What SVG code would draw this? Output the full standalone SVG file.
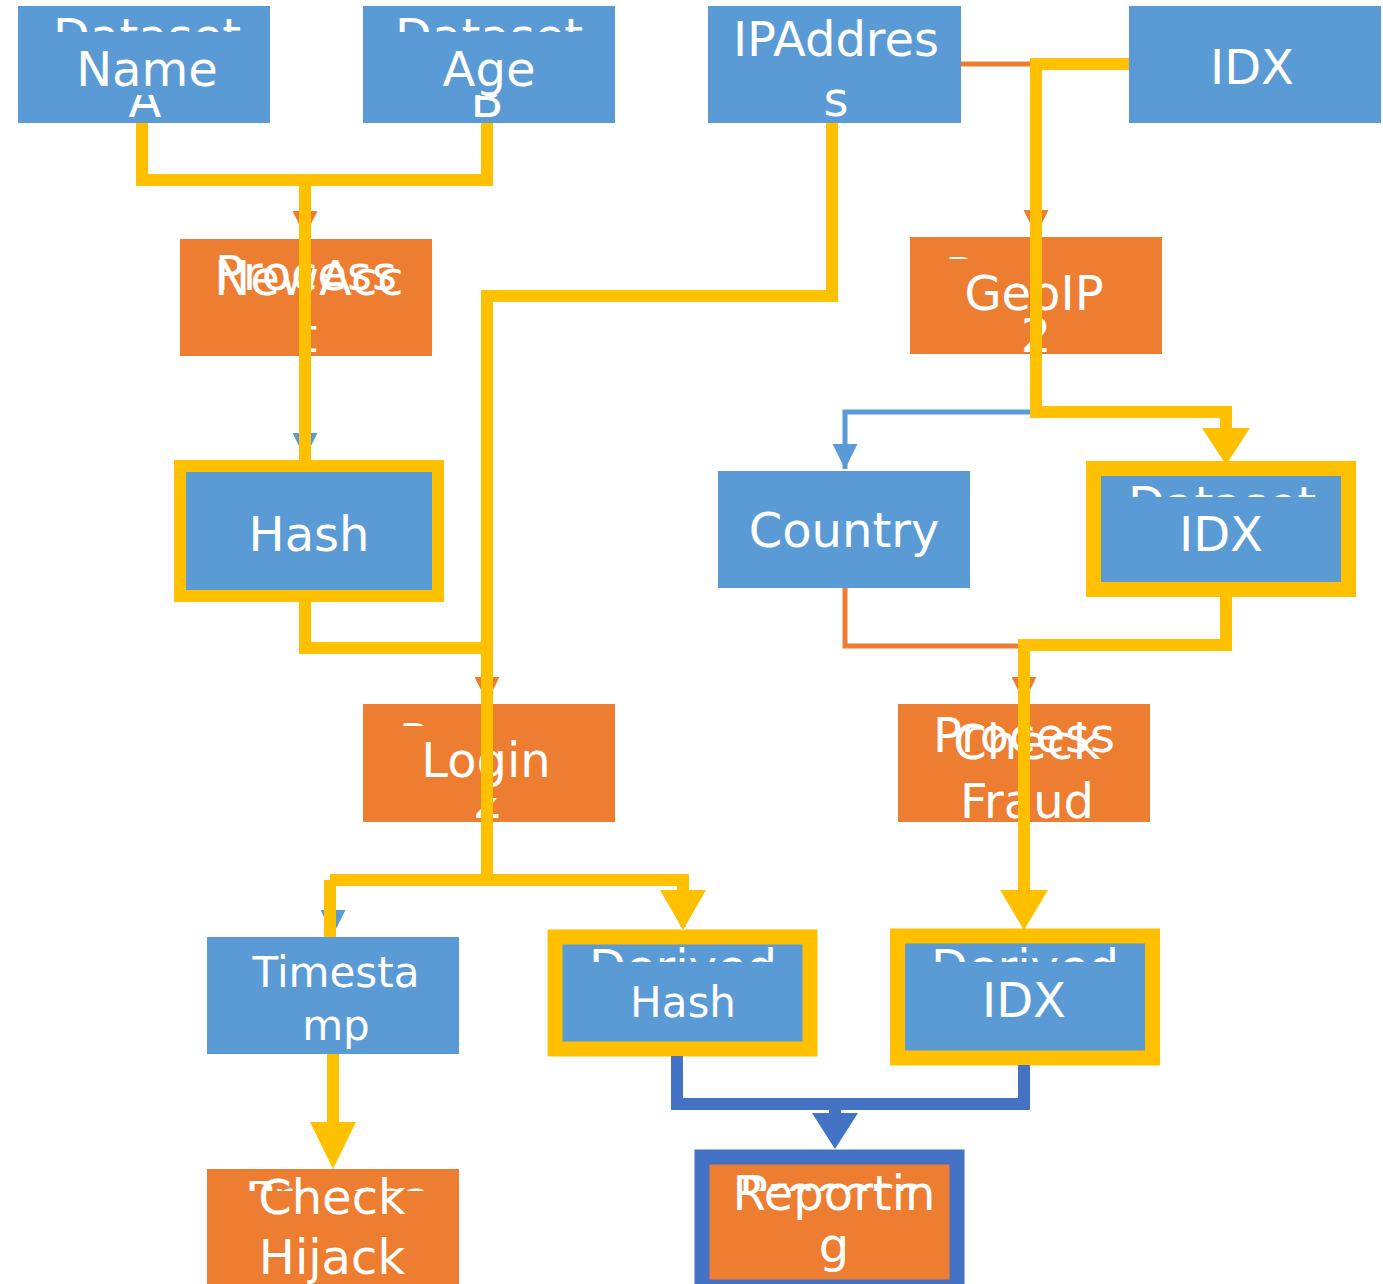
<svg xmlns="http://www.w3.org/2000/svg" width="1383" height="1284" viewBox="0 0 1383 1284">
<style>
.blue{fill:#5B9BD5}
.orange{fill:#ED7D31}
.lbl{font-family:"DejaVu Sans",sans-serif;fill:#FFFFFF;text-anchor:middle}
.big{font-size:48px}
.mid{font-size:42px}
.thin{fill:none;stroke-width:5}
.thick{fill:none;stroke-width:12}
.y{stroke:#FFC000}
.o{stroke:#ED7D31}
.b{stroke:#5B9BD5}
.db{stroke:#4472C4}
</style>
<defs>
<marker id="ao" markerWidth="6" markerHeight="5" refX="5" refY="2.5" orient="auto" markerUnits="strokeWidth"><path d="M0,0 L5,2.5 L0,5 Z" fill="#ED7D31"/></marker>
<marker id="ab" markerWidth="6" markerHeight="5" refX="5" refY="2.5" orient="auto" markerUnits="strokeWidth"><path d="M0,0 L5,2.5 L0,5 Z" fill="#5B9BD5"/></marker>
<clipPath id="cName"><rect x="18" y="6" width="252" height="26"/><rect x="18" y="95" width="252" height="28"/></clipPath>
<clipPath id="cAge"><rect x="363" y="6" width="252" height="26"/><rect x="363" y="95" width="252" height="28"/></clipPath>
<clipPath id="cNew"><rect x="180" y="239" width="252" height="117"/></clipPath>
<clipPath id="cGeo"><rect x="910" y="237" width="65" height="22"/><rect x="1010" y="318" width="60" height="36"/></clipPath>
<clipPath id="cLog"><rect x="363" y="704" width="65" height="22"/><rect x="460" y="798" width="60" height="24"/></clipPath>
<clipPath id="cIdx2"><rect x="1100" y="477" width="241" height="20"/></clipPath>
<clipPath id="cHash2"><rect x="563" y="945" width="239" height="17"/></clipPath>
<clipPath id="cIdx3"><rect x="905" y="944" width="240" height="18"/></clipPath>
<clipPath id="cHij"><rect x="207" y="1181" width="252" height="10"/></clipPath>
<clipPath id="cRep"><rect x="710" y="1165" width="240" height="26"/></clipPath>
</defs>

<g id="node-name">
<rect class="blue" x="18" y="6" width="252" height="117"/>
<g clip-path="url(#cName)"><text class="lbl big" x="147" y="53">Dataset</text><text class="lbl big" x="145" y="117">A</text></g>
<text class="lbl big" x="147" y="86">Name</text>
</g>
<g id="node-age">
<rect class="blue" x="363" y="6" width="252" height="117"/>
<g clip-path="url(#cAge)"><text class="lbl big" x="489" y="53">Dataset</text><text class="lbl big" x="487" y="117">B</text></g>
<text class="lbl big" x="489" y="86">Age</text>
</g>
<g id="node-ipaddress">
<rect class="blue" x="708" y="6" width="253" height="117"/>
<text class="lbl big" x="836" y="56">IPAddres</text>
<text class="lbl big" x="836" y="116">s</text>
</g>
<g id="node-idx1">
<rect class="blue" x="1129" y="6" width="252" height="117"/>
<text class="lbl big" x="1252" y="84">IDX</text>
</g>
<g id="node-newacc">
<rect class="orange" x="180" y="239" width="252" height="117"/>
<g clip-path="url(#cNew)"><text class="lbl big" x="306" y="290">Process</text><text class="lbl big" x="308" y="352">t</text></g>
<text class="lbl big" x="309" y="295">NewAcc</text>
</g>
<g id="node-geoip">
<rect class="orange" x="910" y="237" width="252" height="117"/>
<g clip-path="url(#cGeo)"><text class="lbl big" x="1036" y="292">Process</text><text class="lbl big" x="1036" y="352">2</text></g>
<text class="lbl big" x="1034" y="310">GeoIP</text>
</g>
<g id="node-hash1">
<rect class="blue" x="180" y="466" width="258" height="130" stroke="#FFC000" stroke-width="12"/>
<text class="lbl big" x="309" y="551">Hash</text>
</g>
<g id="node-country">
<rect class="blue" x="718" y="471" width="252" height="117"/>
<text class="lbl big" x="844" y="547">Country</text>
</g>
<g id="node-idx2">
<rect class="blue" x="1093.5" y="468.5" width="255" height="121" stroke="#FFC000" stroke-width="15"/>
<g clip-path="url(#cIdx2)"><text class="lbl big" x="1222" y="521">Dataset</text></g>
<text class="lbl big" x="1221" y="551">IDX</text>
</g>
<g id="node-login">
<rect class="orange" x="363" y="704" width="252" height="118"/>
<g clip-path="url(#cLog)"><text class="lbl big" x="490" y="758">Process</text><text class="lbl big" x="488" y="818">2</text></g>
<text class="lbl big" x="486" y="777">Login</text>
</g>
<g id="node-checkfraud">
<rect class="orange" x="898" y="704" width="252" height="118"/>
<text class="lbl big" x="1024" y="752">Process</text>
<text class="lbl big" x="1027" y="759">Check</text>
<text class="lbl big" x="1027" y="818">Fraud</text>
</g>
<g id="node-timestamp">
<rect class="blue" x="207" y="937" width="252" height="117"/>
<text class="lbl mid" x="336" y="987">Timesta</text>
<text class="lbl mid" x="336" y="1040">mp</text>
</g>
<g id="node-hash2">
<rect class="blue" x="555" y="937" width="255" height="112" stroke="#FFC000" stroke-width="15"/>
<g clip-path="url(#cHash2)"><text class="lbl big" x="683" y="984">Derived</text></g>
<text class="lbl mid" x="683" y="1017">Hash</text>
</g>
<g id="node-idx3">
<rect class="blue" x="897.5" y="936" width="255" height="122" stroke="#FFC000" stroke-width="15"/>
<g clip-path="url(#cIdx3)"><text class="lbl big" x="1025" y="984">Derived</text></g>
<text class="lbl big" x="1024" y="1017">IDX</text>
</g>
<g id="node-checkhijack">
<rect class="orange" x="207" y="1169" width="252" height="115"/>
<g clip-path="url(#cHij)"><text class="lbl big" x="336" y="1215">Process</text></g>
<text class="lbl big" x="332" y="1214">Check</text>
<text class="lbl big" x="332" y="1274">Hijack</text>
</g>
<g id="node-reporting">
<rect class="orange" x="702" y="1157" width="255" height="130" stroke="#4472C4" stroke-width="15"/>
<g clip-path="url(#cRep)"><text class="lbl big" x="830" y="1210">Process</text></g>
<text class="lbl big" x="834" y="1210">Reportin</text>
<text class="lbl big" x="834" y="1262">g</text>
</g>

<g id="connectors">
<path class="thin o" d="M305,180 V236" marker-end="url(#ao)"/>
<path class="thin b" d="M305,356 V458" marker-end="url(#ab)"/>
<path class="thin o" d="M961,64 H1036 V235" marker-end="url(#ao)"/>
<path class="thin b" d="M1036,412 H845 V469" marker-end="url(#ab)"/>
<path class="thin o" d="M487,648 V702" marker-end="url(#ao)"/>
<path class="thin o" d="M845,588 V646 H1024 V702" marker-end="url(#ao)"/>
<path class="thin b" d="M487,822 V880 H333 V935" marker-end="url(#ab)"/>
<path class="thin b" d="M683,880 V927" marker-end="url(#ab)"/>

<path class="thick y" d="M142,123 V180 H487 V123"/>
<path class="thick y" d="M305,180 V460"/>
<path class="thick y" d="M832,123 V296 H487 V880"/>
<path class="thick y" d="M305,602 V648 H487"/>
<path class="thick y" d="M330,880 H683 V892"/>
<path class="thick y" d="M330,880 V937"/>
<polygon points="660,890 706,890 683,930" fill="#FFC000"/>
<path class="thick y" d="M1129,64 H1036 V412 H1226 V430"/>
<polygon points="1202,428 1250,428 1226,465" fill="#FFC000"/>
<path class="thick y" d="M1226,597 V645 H1024 V892"/>
<polygon points="1000,890 1048,890 1024,930" fill="#FFC000"/>
<path class="thick y" d="M333,1054 V1124"/>
<polygon points="310,1122 356,1122 333,1169" fill="#FFC000"/>
<path class="thick db" d="M677,1056 V1104 H1024 V1065"/>
<path class="thick db" d="M835,1104 V1115"/>
<polygon points="812,1113 858,1113 835,1149" fill="#4472C4"/>
</g>
</svg>
